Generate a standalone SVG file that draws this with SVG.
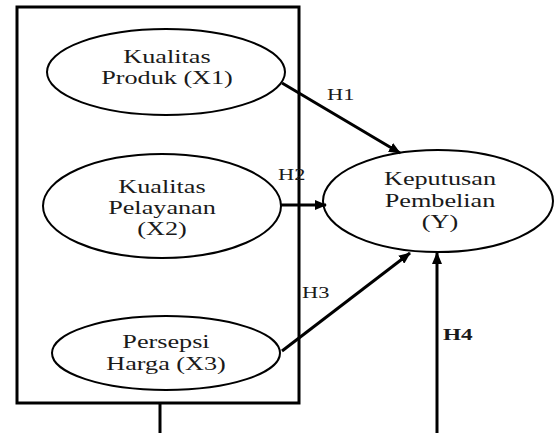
<svg xmlns="http://www.w3.org/2000/svg" width="560" height="433" viewBox="0 0 560 433">
<style>
.node ellipse{fill:#fff;stroke:#000;stroke-width:2}
.t{font-family:"Liberation Serif","Times New Roman",serif;font-size:19px;fill:#1a1a1a;text-anchor:middle}
.lbl{font-family:"Liberation Serif","Times New Roman",serif;font-size:16px;fill:#1a1a1a}
.c line{stroke:#000;stroke-width:3;fill:none}
</style>
<defs>
<marker id="ah" viewBox="0 0 12 10" refX="11" refY="5" markerWidth="12" markerHeight="10" markerUnits="userSpaceOnUse" orient="auto">
<path d="M0,0 L12,5 L0,10 Z" fill="#000"/>
</marker>
</defs>
<rect x="17" y="7" width="282" height="396" fill="none" stroke="#000" stroke-width="3"/>
<g id="x1" class="node">
<ellipse cx="166" cy="72" rx="119" ry="43"/>
<text class="t" transform="translate(167,63) scale(1.38,1)">Kualitas</text>
<text class="t" transform="translate(167,84) scale(1.38,1)">Produk (X1)</text>
</g>
<g id="x2" class="node">
<ellipse cx="162" cy="206" rx="119" ry="52"/>
<text class="t" transform="translate(162,193) scale(1.38,1)">Kualitas</text>
<text class="t" transform="translate(162,214) scale(1.38,1)">Pelayanan</text>
<text class="t" transform="translate(162,235) scale(1.38,1)">(X2)</text>
</g>
<g id="x3" class="node">
<ellipse cx="166" cy="353" rx="114" ry="37"/>
<text class="t" transform="translate(166,348) scale(1.38,1)">Persepsi</text>
<text class="t" transform="translate(166,370) scale(1.38,1)">Harga (X3)</text>
</g>
<g id="y" class="node">
<ellipse cx="438" cy="201" rx="115" ry="51"/>
<text class="t" transform="translate(440,185) scale(1.38,1)">Keputusan</text>
<text class="t" transform="translate(440,207) scale(1.38,1)">Pembelian</text>
<text class="t" transform="translate(440,228) scale(1.38,1)">(Y)</text>
</g>
<g id="connectors" class="c">
<line x1="282" y1="83" x2="400" y2="153" marker-end="url(#ah)"/>
<line x1="281" y1="205" x2="326" y2="205" marker-end="url(#ah)"/>
<line x1="282" y1="351" x2="410" y2="253" marker-end="url(#ah)"/>
<line x1="437" y1="433" x2="437" y2="253" marker-end="url(#ah)"/>
<line x1="160" y1="403" x2="160" y2="433"/>
</g>
<g id="labels">
<text class="lbl" transform="translate(327,100) scale(1.4,1)">H1</text>
<text class="lbl" transform="translate(278,180) scale(1.4,1)">H2</text>
<text class="lbl" transform="translate(302,298) scale(1.4,1)">H3</text>
<text class="lbl" font-weight="bold" transform="translate(443,340) scale(1.45,1)">H4</text>
</g>
</svg>
